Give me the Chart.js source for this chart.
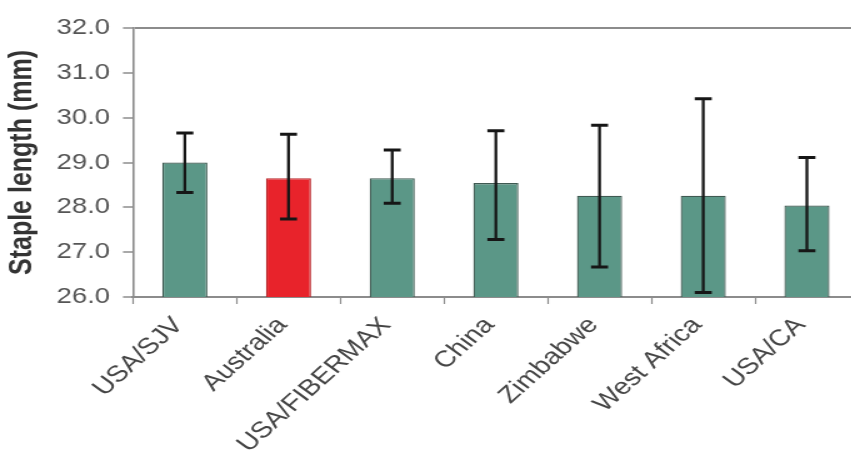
<!DOCTYPE html>
<html>
<head>
<meta charset="utf-8">
<script src="https://cdn.jsdelivr.net/npm/chart.js@4/dist/chart.umd.min.js"></script>
<style>
  html, body { margin: 0; padding: 0; background: #fff; overflow: hidden; }
  #wrap { width: 851px; height: 460px; overflow: hidden; }
  /* the chart is drawn in a narrower canvas and widened horizontally */
  canvas { display: block; transform: scaleX(1.25); transform-origin: 0 0; }
</style>
</head>
<body>
<div id="wrap"><canvas id="chart" width="687" height="460"></canvas></div>
<script>
// Mean staple length by cotton origin, with min/max range bars
const categories = ['USA/SJV', 'Australia', 'USA/FIBERMAX', 'China', 'Zimbabwe', 'West Africa', 'USA/CA'];
const meanLength = [29.0, 28.65, 28.65, 28.54, 28.26, 28.26, 28.04];
const upperLength = [29.66, 29.63, 29.28, 29.71, 29.83, 30.42, 29.11];
const lowerLength = [28.33, 27.74, 28.09, 27.28, 26.67, 26.10, 27.03];
const highlighted = ['Australia'];
const yTicks = [26, 27, 28, 29, 30, 31, 32];

const TEAL = '#5b9787';
const RED = '#e8232b';
const AXIS = '#8c8c8c';
const FONT = '"Liberation Sans", Arial, sans-serif';

const errorBars = {
  id: 'errorBars',
  afterDatasetsDraw(chart) {
    const { ctx, scales: { x, y } } = chart;
    ctx.save();
    ctx.strokeStyle = '#161616';
    ctx.lineCap = 'butt';
    categories.forEach((c, i) => {
      const px = x.getPixelForValue(i);
      const top = y.getPixelForValue(upperLength[i]);
      const bot = y.getPixelForValue(lowerLength[i]);
      ctx.lineWidth = 2.3;
      ctx.beginPath();
      ctx.moveTo(px, top); ctx.lineTo(px, bot);
      ctx.stroke();
      ctx.lineWidth = 3;
      ctx.beginPath();
      ctx.moveTo(px - 6.8, top); ctx.lineTo(px + 6.8, top);
      ctx.moveTo(px - 6.8, bot); ctx.lineTo(px + 6.8, bot);
      ctx.stroke();
    });
    ctx.restore();
  }
};

new Chart(document.getElementById('chart'), {
  type: 'bar',
  data: {
    labels: categories,
    datasets: [{
      data: meanLength,
      backgroundColor: categories.map(c => highlighted.includes(c) ? RED : TEAL),
      borderColor: categories.map(c => highlighted.includes(c) ? '#b8262a' : '#3f5a52'),
      borderWidth: 1.3,
      borderSkipped: 'bottom',
      barPercentage: 0.435,
      categoryPercentage: 1.0
    }]
  },
  options: {
    responsive: false,
    animation: false,
    devicePixelRatio: 1,
    layout: { padding: { top: 28, left: 0, right: 0, bottom: 0 } },
    plugins: { legend: { display: false }, tooltip: { enabled: false } },
    scales: {
      x: {
        offset: true,
        afterFit(scale) { scale.height = 163; },
        border: { display: true, color: AXIS, width: 2 },
        grid: {
          offset: true,
          drawOnChartArea: false,
          drawTicks: true,
          tickLength: 7,
          tickColor: AXIS,
          tickWidth: 1.2
        },
        ticks: {
          autoSkip: false,
          minRotation: 48,
          maxRotation: 48,
          padding: 8,
          labelOffset: -5,
          color: '#444',
          font: { family: FONT, size: 23 }
        }
      },
      y: {
        min: 26,
        max: 32,
        afterFit(scale) { scale.width = 106.4; },
        afterBuildTicks(scale) { scale.ticks = yTicks.map(v => ({ value: v })); },
        border: { display: true, color: AXIS, width: 1.6 },
        grid: {
          drawOnChartArea: true,
          drawTicks: true,
          tickLength: 8,
          tickColor: AXIS,
          tickWidth: 1.5,
          color: ctx => (ctx.tick && ctx.tick.value === 32) ? AXIS : 'rgba(0,0,0,0)',
          lineWidth: 2
        },
        ticks: {
          padding: 10.4,
          color: '#555',
          font: { family: FONT, size: 22 },
          callback: v => Number(v).toFixed(1)
        },
        title: {
          display: true,
          text: 'Staple length (mm)',
          color: '#333',
          padding: { top: 3, bottom: 0 },
          font: { family: FONT, size: 25, weight: 'bold' }
        }
      }
    }
  },
  plugins: [errorBars]
});
</script>
</body>
</html>
